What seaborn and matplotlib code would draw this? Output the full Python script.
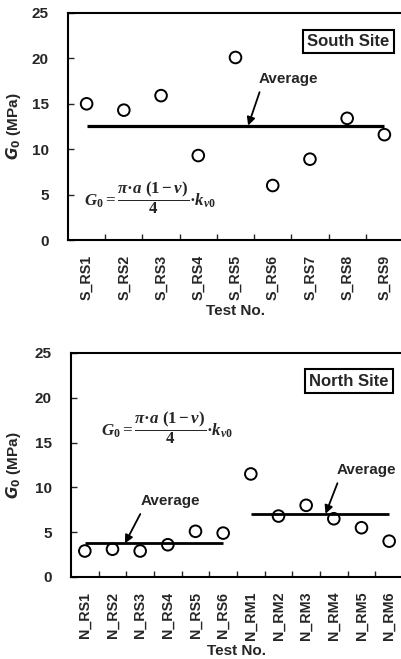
import matplotlib
matplotlib.use("Agg")
import matplotlib.pyplot as plt
import seaborn as sns
import pandas as pd
import numpy as np

# ---- data ----
south_tests = ["S_RS1", "S_RS2", "S_RS3", "S_RS4", "S_RS5", "S_RS6", "S_RS7", "S_RS8", "S_RS9"]
south_g0 = [15.0, 14.3, 15.9, 9.3, 20.1, 6.0, 8.9, 13.4, 11.6]
south_avg = 12.6

north_tests = ["N_RS1", "N_RS2", "N_RS3", "N_RS4", "N_RS5", "N_RS6",
               "N_RM1", "N_RM2", "N_RM3", "N_RM4", "N_RM5", "N_RM6"]
north_g0 = [2.9, 3.1, 2.9, 3.6, 5.1, 4.9, 11.5, 6.8, 8.0, 6.5, 5.5, 4.0]
north_rs_avg = 3.75
north_rm_avg = 7.05

y_ticks = [0, 5, 10, 15, 20, 25]
formula = "$G_0=\\dfrac{\\pi\u00b7a\\ (1-\\nu)}{4}\u00b7k_{v0}$"

sns.set_theme(style="white")
plt.rcParams["font.family"] = ["Liberation Sans Narrow", "Liberation Sans", "DejaVu Sans"]
plt.rcParams["font.weight"] = "bold"
plt.rcParams["axes.edgecolor"] = "black"
plt.rcParams["mathtext.rm"] = "Liberation Serif"
plt.rcParams["mathtext.it"] = "Liberation Serif:italic"
plt.rcParams["mathtext.bf"] = "Liberation Serif:bold"
plt.rcParams["mathtext.fallback"] = "stix"

fig = plt.figure(figsize=(4.01, 6.59), dpi=100)
W, H = 401, 659
ax1 = fig.add_axes([68 / W, 1 - 240 / H, 335 / W, 227 / H])
ax2 = fig.add_axes([71 / W, 1 - 577 / H, 332 / W, 224 / H])


def draw(ax, tests, vals):
    df = pd.DataFrame({"test": tests, "g0": vals})
    sns.scatterplot(data=df, x="test", y="g0", ax=ax, marker="o", s=70,
                    color="black", zorder=4, legend=False)
    col = ax.collections[-1]
    col.set_facecolor("none")
    col.set_edgecolor("black")
    col.set_linewidth(1.4)
    n = len(tests)
    ax.set_xlim(-0.5, n - 0.5)
    ax.set_ylim(0, 25)
    ax.set_yticks(y_ticks)
    ax.set_yticklabels([str(t) for t in y_ticks], fontsize=11, fontweight="bold")
    ax.set_xticks(range(n))
    ax.set_xticklabels(tests, rotation=90, fontsize=10.3, fontweight="bold")
    ax.set_xticks(np.arange(0.5, n - 1, 1), minor=True)
    ax.tick_params(axis="x", which="major", length=0, pad=10.5)
    ax.tick_params(axis="x", which="minor", direction="in", length=4, width=1, bottom=True)
    ax.tick_params(axis="y", which="major", direction="in", length=4, width=1, pad=14, left=True)
    for s in ax.spines.values():
        s.set_linewidth(1.5)
        s.set_color("black")
    ax.set_xlabel("Test No.", fontsize=11, fontweight="bold", labelpad=3)
    ax.set_ylabel(r"$G_0$ (MPa)", fontsize=11, fontweight="bold")
    ax.grid(False)


draw(ax1, south_tests, south_g0)
draw(ax2, north_tests, north_g0)

# average lines
ax1.hlines(south_avg, 0, len(south_tests) - 1, color="black", lw=2.3, zorder=3)
ax2.hlines(north_rs_avg, 0, 5, color="black", lw=2.0, zorder=3)
ax2.hlines(north_rm_avg, 6, 11, color="black", lw=2.0, zorder=3)

arrow = dict(arrowstyle="-|>", color="black", lw=1.3, mutation_scale=12,
             relpos=(0.05, 0.0), shrinkA=2, shrinkB=0)
ax1.annotate("Average", xy=(4.34, south_avg), xytext=(5.42, 17.7), ha="center", va="center",
             fontsize=11, fontweight="bold", arrowprops=arrow)
ax2.annotate("Average", xy=(1.45, north_rs_avg), xytext=(3.08, 8.45), ha="center", va="center",
             fontsize=11, fontweight="bold", arrowprops=arrow)
ax2.annotate("Average", xy=(8.7, north_rm_avg), xytext=(10.18, 11.9), ha="center", va="center",
             fontsize=11, fontweight="bold", arrowprops=arrow)

box = dict(boxstyle="square,pad=0.25", fc="white", ec="black", lw=1.5)
ax1.text(0.837, 0.875, "South Site", transform=ax1.transAxes, ha="center", va="center",
         fontsize=12, fontweight="bold", bbox=box)
ax2.text(0.837, 0.875, "North Site", transform=ax2.transAxes, ha="center", va="center",
         fontsize=12, fontweight="bold", bbox=box)

ax1.text(1.7, 4.6, formula, ha="center", va="center", fontsize=12.2,
         fontweight="normal", math_fontfamily="custom")
ax2.text(2.97, 16.6, formula, ha="center", va="center", fontsize=12.2,
         fontweight="normal", math_fontfamily="custom")

ax1.yaxis.set_label_coords(-0.134, 0.5)
ax2.yaxis.set_label_coords(-0.145, 0.5)

fig.savefig("out.png", dpi=100)
